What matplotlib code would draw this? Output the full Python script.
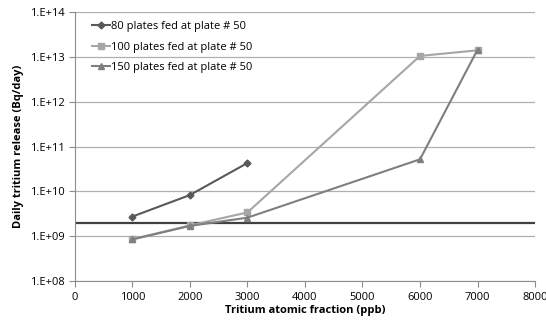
import numpy as np
import matplotlib.pyplot as plt
from matplotlib.ticker import FixedLocator, FuncFormatter

plt.rcParams['font.family'] = ['Open Sans', 'DejaVu Sans']

# data
x80 = [1000, 2000, 3000]
y80 = [2.75e9, 8.3e9, 4.3e10]
x100 = [1000, 2000, 3000, 6000, 7000]
y100 = [8.6e8, 1.75e9, 3.4e9, 1.05e13, 1.4e13]
x150 = [1000, 2000, 3000, 6000, 7000]
y150 = [8.5e8, 1.7e9, 2.6e9, 5.2e10, 1.45e13]
limit = 2.0e9

labels = ['80 plates fed at plate # 50', '100 plates fed at plate # 50',
          '150 plates fed at plate # 50']

fig = plt.figure(figsize=(5.46, 3.25), dpi=100)
ax = fig.add_axes([0.137, 0.135, 0.843, 0.828])

ax.axhline(limit, color='#404040', lw=1.6, zorder=2)
ax.plot(x80, y80, color='#595959', marker='D', ms=3.5, lw=1.5, label=labels[0], zorder=3)
ax.plot(x100, y100, color='#a6a6a6', marker='s', ms=5, lw=1.5, label=labels[1], zorder=3)
ax.plot(x150, y150, color='#7f7f7f', marker='^', ms=5, lw=1.5, label=labels[2], zorder=3)

ax.set_yscale('log')
ax.set_ylim(1e8, 1e14)
ax.set_xlim(0, 8000)
ax.xaxis.set_major_locator(FixedLocator(range(0, 8001, 1000)))
ax.yaxis.set_major_locator(FixedLocator([10.0 ** k for k in range(8, 15)]))
ax.yaxis.set_minor_locator(FixedLocator([]))
ax.yaxis.set_major_formatter(FuncFormatter(lambda v, p: '1.E+%02d' % round(np.log10(v))))

ax.grid(axis='y', color='#b0b0b0', lw=0.9)
ax.set_axisbelow(True)
for s in ['top', 'right']:
    ax.spines[s].set_visible(False)
for s in ['left', 'bottom']:
    ax.spines[s].set_color('#8c8c8c')
ax.tick_params(axis='both', colors='#8c8c8c', labelcolor='black', labelsize=8, length=4, direction='out')

ax.set_xlabel('Tritium atomic fraction (ppb)', fontsize=8, fontweight='bold', labelpad=2)
ax.set_ylabel('Daily tritium release (Bq/day)', fontsize=8, fontweight='bold', labelpad=4)

ax.legend(loc='upper left', bbox_to_anchor=(0.02, 0.995), frameon=False, fontsize=8,
          handlelength=1.6, handletextpad=0.1, labelspacing=0.85, borderaxespad=0.3)

fig.savefig('out.png', dpi=100)
